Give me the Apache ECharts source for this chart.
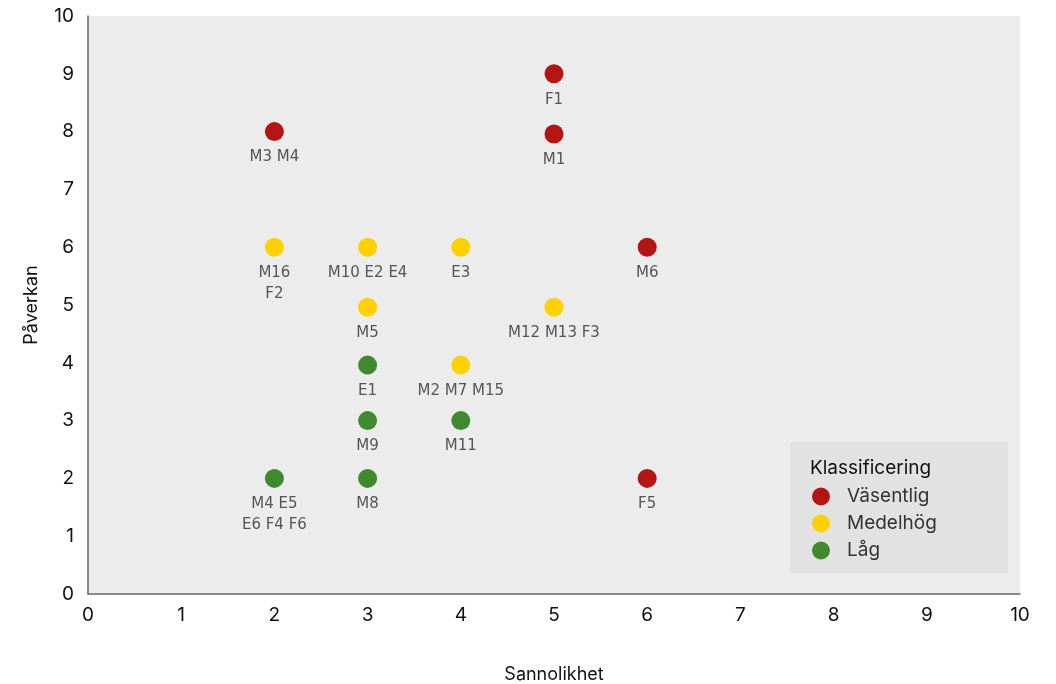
<!DOCTYPE html>
<html>
<head>
<meta charset="utf-8">
<script src="https://cdn.jsdelivr.net/npm/echarts@6/dist/echarts.min.js"></script>
<style>
  html, body { margin: 0; padding: 0; background: #fff; }
  #chart { width: 1056px; height: 684px; }
</style>
</head>
<body>
<div id="chart"></div>
<script>
// Risk matrix: likelihood (x) against impact (y), grouped by classification
const classNames = ['Väsentlig', 'Medelhög', 'Låg'];
const classColors = ['#b31515', '#ffd100', '#3f8a2f'];

// [sannolikhet, påverkan, risk ids]
const vasentlig = [
  [5, 9, 'F1'],
  [5, 7.96, 'M1'],
  [2, 8, 'M3 M4'],
  [6, 6, 'M6'],
  [6, 2, 'F5']
];
const medelhog = [
  [2, 6, 'M16\nF2'],
  [3, 6, 'M10 E2 E4'],
  [4, 6, 'E3'],
  [3, 4.96, 'M5'],
  [5, 4.96, 'M12 M13 F3'],
  [4, 3.96, 'M2 M7 M15']
];
const lag = [
  [3, 3.96, 'E1'],
  [3, 3, 'M9'],
  [4, 3, 'M11'],
  [2, 2, 'M4 E5\nE6 F4 F6'],
  [3, 2, 'M8']
];

const axisTicks = [0, 1, 2, 3, 4, 5, 6, 7, 8, 9, 10];
const xName = 'Sannolikhet';
const yName = 'Påverkan';
const legendTitle = 'Klassificering';

const font = 'Inter, "Noto Sans", sans-serif';

function makeSeries(name, data, color) {
  return {
    name: name,
    type: 'scatter',
    data: data,
    symbol: 'circle',
    symbolSize: 19,
    itemStyle: { color: color, opacity: 1 },
    label: {
      show: true,
      position: 'bottom',
      distance: 6,
      formatter: p => p.data[2],
      color: '#555',
      fontSize: 15,
      lineHeight: 21,
      fontFamily: '"DejaVu Sans", sans-serif',
      align: 'center'
    },
    emphasis: { disabled: true }
  };
}

const chart = echarts.init(document.getElementById('chart'));
chart.setOption({
  animation: false,
  textStyle: { fontFamily: font },
  grid: {
    left: 88, right: 36, top: 16, bottom: 90,
    containLabel: false,
    outerBoundsMode: 'none',
    show: true, backgroundColor: '#ececec', borderWidth: 0
  },
  xAxis: {
    type: 'value',
    min: axisTicks[0], max: axisTicks[axisTicks.length - 1], interval: 1,
    name: xName, nameLocation: 'middle', nameGap: 72,
    nameTextStyle: { color: '#111', fontSize: 18, fontFamily: font },
    axisLine: { show: true, lineStyle: { color: '#666', width: 1.5 } },
    axisTick: { show: false },
    splitLine: { show: false },
    axisLabel: { color: '#111', fontSize: 19, margin: 12, fontFamily: font }
  },
  yAxis: {
    type: 'value',
    min: axisTicks[0], max: axisTicks[axisTicks.length - 1], interval: 1,
    name: yName, nameLocation: 'middle', nameGap: 47, nameRotate: 90,
    nameTextStyle: { color: '#111', fontSize: 18, fontFamily: font },
    axisLine: { show: true, lineStyle: { color: '#666', width: 1.5 } },
    axisTick: { show: false },
    splitLine: { show: false },
    axisLabel: { color: '#111', fontSize: 19, margin: 14, fontFamily: font }
  },
  legend: {
    orient: 'vertical',
    left: 807, top: 482,
    z: 10,
    icon: 'circle',
    itemWidth: 18, itemHeight: 18,
    itemGap: 8,
    data: classNames,
    textStyle: { color: '#333', fontSize: 19, fontFamily: font, padding: [0, 0, 0, 12] },
    selectedMode: false
  },
  graphic: [
    {
      type: 'rect', z: 1, silent: true,
      shape: { x: 790, y: 442, width: 218, height: 131 },
      style: { fill: '#e2e2e2' }
    },
    {
      type: 'text', z: 2, silent: true,
      left: 810, top: 459,
      style: { text: legendTitle, fill: '#111', font: '19px ' + font }
    }
  ],
  series: [
    makeSeries(classNames[0], vasentlig, classColors[0]),
    makeSeries(classNames[1], medelhog, classColors[1]),
    makeSeries(classNames[2], lag, classColors[2])
  ]
});
</script>
</body>
</html>
